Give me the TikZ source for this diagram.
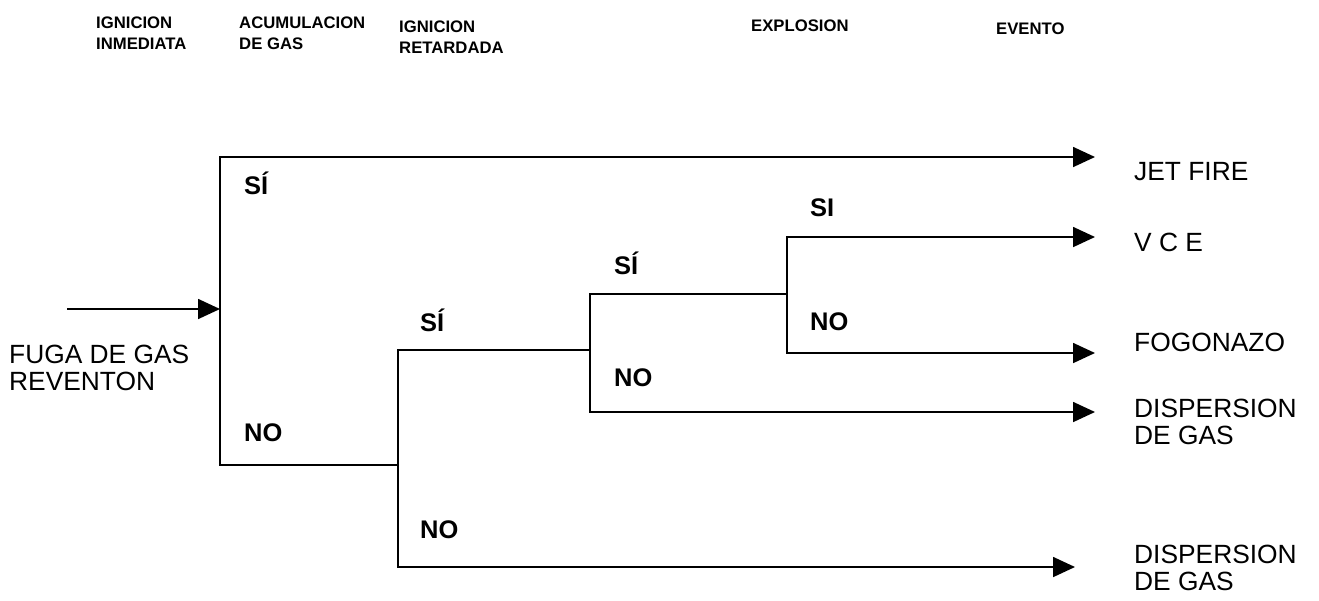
\documentclass[tikz,border=0pt]{standalone}
\usepackage{fontspec}
\setmainfont{Liberation Sans}
\usetikzlibrary{arrows.meta,positioning}
\tikzset{head/.style={anchor=west,align=left,font=\bfseries\fontsize{9.5}{12}\selectfont},answer/.style={anchor=west,font=\bfseries\fontsize{14.5}{15}\selectfont},event/.style={anchor=west,align=left,font=\fontsize{15}{15.5}\selectfont},branch/.style={line width=1pt},arrow/.style={branch,-{Triangle[length=4.4mm,width=4mm]}}}

\begin{document}
\begin{tikzpicture}[x=0.02cm,y=-0.02cm]
\useasboundingbox (0,0) rectangle (1319,600);
% column headings
\node[head] (h1) at (90,33) {IGNICION\\INMEDIATA};
\node[head] (h2) at (233,33) {ACUMULACION\\DE GAS};
\node[head] (h3) at (393,37) {IGNICION\\RETARDADA};
\node[head] (h4) at (745,26) {EXPLOSION};
\node[head] (h5) at (990,29) {EVENTO};
% start
\node[event] (start) at (3,368) {FUGA DE GAS\\REVENTON};
\coordinate (in) at (67,309); \coordinate (a) at (220,309);
% branch points
\coordinate (a1) at (220,157); \coordinate (a0) at (220,465);
\coordinate (b) at (398,465); \coordinate (b1) at (398,350); \coordinate (b0) at (398,567);
\coordinate (c) at (590,350); \coordinate (c1) at (590,294); \coordinate (c0) at (590,412);
\coordinate (d) at (787,294); \coordinate (d1) at (787,237); \coordinate (d0) at (787,353);
% arrow ends
\coordinate (e1) at (1095,157); \coordinate (e2) at (1095,237); \coordinate (e3) at (1095,353);
\coordinate (e4) at (1095,412); \coordinate (e5) at (1075,567);
\draw[arrow] (in) -- (a);
\draw[arrow] (b) -- (a0) -- (a1) -- (e1);
\draw[arrow] (c) -- (b1) -- (b0) -- (e5);
\draw[arrow] (d) -- (c1) -- (c0) -- (e4);
\draw[arrow] (d0) -- (d1) -- (e2);
\draw[arrow] (d1) -- (d0) -- (e3);
% answers
\node[answer] (s1) at (238,183) {SÍ}; \node[answer] (n1) at (238,433) {NO};
\node[answer] (s2) at (414,320) {SÍ}; \node[answer] (n2) at (414,530) {NO};
\node[answer] (s3) at (608,263) {SÍ}; \node[answer] (n3) at (608,378) {NO};
\node[answer] (s4) at (804,208) {SI}; \node[answer] (n4) at (804,322) {NO};
% events
\node[event] (jet) at (1128,172) {JET FIRE};
\node[event] (vce) at (1128,242) {V C E};
\node[event] (fog) at (1128,342) {FOGONAZO};
\node[event] (disp1) at (1128,422) {DISPERSION\\DE GAS};
\node[event] (disp2) at (1128,568) {DISPERSION\\DE GAS};
\end{tikzpicture}
\end{document}
